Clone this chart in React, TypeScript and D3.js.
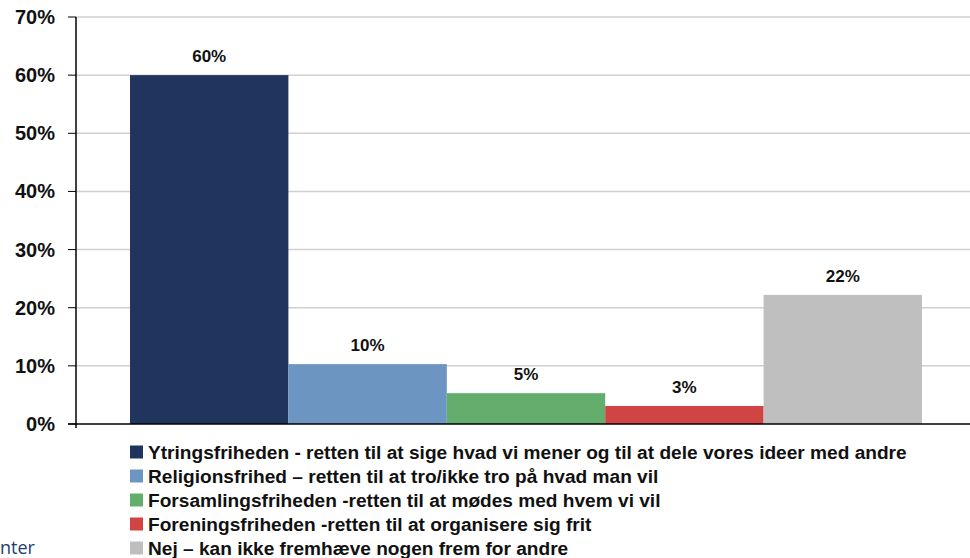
import React from "react";
import * as d3 from "d3";

const categories = [
  "Ytringsfriheden - retten til at sige hvad vi mener og til at dele vores ideer med andre",
  "Religionsfrihed – retten til at tro/ikke tro på hvad man vil",
  "Forsamlingsfriheden -retten til at mødes med hvem vi vil",
  "Foreningsfriheden -retten til at organisere sig frit",
  "Nej – kan ikke fremhæve nogen frem for andre",
];
const values = [60, 10.3, 5.3, 3.1, 22.2];
const valueLabels = ["60%", "10%", "5%", "3%", "22%"];
const colors = ["#21345E", "#6C95C2", "#63AE6C", "#D04444", "#BFBFBF"];
const yTicks = [0, 10, 20, 30, 40, 50, 60, 70];

const W = 970;
const H = 558;
const left = 76;
const right = 976;
const top = 17;
const bottom = 424;

export default function App() {
  const y = d3.scaleLinear().domain([0, 70]).range([bottom, top]);
  const x = d3.scaleBand<number>().domain(d3.range(values.length)).range([130, 922]).padding(0);
  const font = "'Liberation Sans', Arial, sans-serif";
  return (
    <svg width={W} height={H} style={{ position: "absolute", left: 0, top: 0 }} fontFamily={font}>
      <rect width={W} height={H} fill="#fff" />
      {yTicks.map((t) => (
        <g key={t}>
          {t > 0 && <line x1={left} x2={right} y1={y(t)} y2={y(t)} stroke="#D0D0D0" strokeWidth={1.5} />}
          <line x1={68} x2={left} y1={y(t)} y2={y(t)} stroke="#000" strokeWidth={1} />
          <text x={55} y={y(t)} dy="0.35em" textAnchor="end" fontSize={20} fontWeight="bold" fill="#111">
            {t}%
          </text>
        </g>
      ))}
      {values.map((v, i) => (
        <g key={i}>
          <rect x={x(i)} y={y(v)} width={x.bandwidth()} height={bottom - y(v)} fill={colors[i]} />
          <text x={(x(i) as number) + x.bandwidth() / 2} y={y(v) - 13} textAnchor="middle" fontSize={17} fontWeight="bold" fill="#111">
            {valueLabels[i]}
          </text>
        </g>
      ))}
      <line x1={left} x2={left} y1={top} y2={bottom + 4} stroke="#000" strokeWidth={1.5} />
      <line x1={68} x2={right} y1={bottom} y2={bottom} stroke="#000" strokeWidth={1.5} />
      {categories.map((c, i) => {
        const cy = 452 + i * 24;
        return (
          <g key={c}>
            <rect x={130} y={cy - 6.5} width={13} height={13} fill={colors[i]} />
            <text x={148} y={cy} dy="0.36em" fontSize={19.1} fontWeight="bold" fill="#111">
              {c}
            </text>
          </g>
        );
      })}
      <text x={0} y={554} fontSize={18} fill="#22406F" fontFamily="'Open Sans', sans-serif">
        nter
      </text>
    </svg>
  );
}
